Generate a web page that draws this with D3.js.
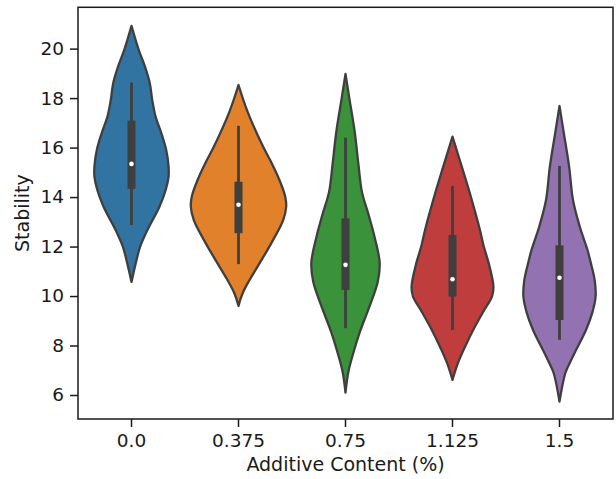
<!DOCTYPE html>
<html>
<head>
<meta charset="utf-8">
<script src="https://cdn.jsdelivr.net/npm/d3@7"></script>
<style>
  body { margin: 0; background: #fff; }
  text { font-family: "DejaVu Sans", sans-serif; fill: #1a1a1a; }
</style>
</head>
<body>
<svg id="chart" width="616" height="479"></svg>
<script>
// groups on the x axis
var categories = ["0.0", "0.375", "0.75", "1.125", "1.5"]
var colors = ["#3274a1", "#e1812c", "#3a923a", "#c03d3e", "#9372b2"]

// kde outline of each violin: stability values and relative density there
var kdeValues = [
    [20.92, 19.95, 19.27, 18.60, 17.93, 17.25, 16.58, 15.91, 15.23, 14.83, 14.29, 13.61, 12.67, 12.00, 11.34, 10.57],
    [18.53, 17.39, 16.04, 15.37, 14.69, 14.02, 13.61, 13.08, 12.27, 11.46, 10.65, 10.13, 9.60],
    [18.98, 17.99, 16.65, 15.30, 14.22, 13.28, 12.34, 11.34, 10.58, 9.64, 8.56, 7.75, 6.94, 6.10],
    [16.44, 15.37, 14.02, 12.67, 12.00, 11.34, 10.38, 9.98, 9.44, 8.63, 7.95, 7.28, 6.61],
    [17.68, 16.58, 15.23, 13.88, 12.81, 11.87, 11.34, 10.65, 9.98, 9.32, 8.63, 7.69, 7.28, 6.88, 5.73]
]
var kdeDensity = [
    [0, 0.15, 0.28, 0.38, 0.43, 0.50, 0.62, 0.72, 0.77, 0.77, 0.71, 0.58, 0.33, 0.18, 0.09, 0],
    [0, 0.20, 0.51, 0.69, 0.85, 0.97, 0.99, 0.93, 0.72, 0.48, 0.23, 0.09, 0],
    [0, 0.08, 0.19, 0.27, 0.34, 0.48, 0.61, 0.71, 0.67, 0.51, 0.30, 0.17, 0.06, 0],
    [0, 0.17, 0.38, 0.57, 0.65, 0.75, 0.85, 0.82, 0.66, 0.43, 0.26, 0.11, 0],
    [0, 0.09, 0.20, 0.28, 0.42, 0.58, 0.65, 0.73, 0.75, 0.68, 0.55, 0.31, 0.21, 0.12, 0]
]

// inner box stats
var whiskerLow = [12.87, 11.29, 8.70, 8.63, 8.23]
var q1 = [14.33, 12.54, 10.25, 9.98, 9.03]
var median = [15.34, 13.69, 11.26, 10.68, 10.74]
var q3 = [17.09, 14.62, 13.14, 12.47, 12.05]
var whiskerHigh = [18.63, 16.88, 16.40, 14.45, 15.26]

var yTicks = [6, 8, 10, 12, 14, 16, 18, 20]

var plotLeft = 78, plotRight = 613, plotTop = 7.3, plotBottom = 419
var edge = "#3f3f3f"

var svg = d3.select("#chart")

var x = d3.scaleBand()
    .domain(categories)
    .range([plotLeft, plotRight])

var y = d3.scaleLinear()
    .domain([5.03, 21.67])
    .range([plotBottom, plotTop])

var w = d3.scaleLinear()
    .domain([0, 1])
    .range([0, x.bandwidth() * 0.45])

var violins = svg.selectAll(".violin")
    .data(categories)
    .enter().append("g")
    .attr("class", "violin")

violins.append("path")
    .attr("d", function(c, i) {
        var cx = x(c) + x.bandwidth() / 2
        var pts = kdeValues[i].map(function(v, j) { return [v, kdeDensity[i][j]] })
        return d3.area()
            .curve(d3.curveCatmullRom)
            .y(function(d) { return y(d[0]) })
            .x0(function(d) { return cx - w(d[1]) })
            .x1(function(d) { return cx + w(d[1]) })(pts)
    })
    .style("fill", function(c, i) { return colors[i] })
    .style("stroke", edge)
    .style("stroke-width", 2.3)
    .style("stroke-linejoin", "round")

violins.append("line")
    .attr("x1", function(c) { return x(c) + x.bandwidth() / 2 })
    .attr("x2", function(c) { return x(c) + x.bandwidth() / 2 })
    .attr("y1", function(c, i) { return y(whiskerHigh[i]) })
    .attr("y2", function(c, i) { return y(whiskerLow[i]) })
    .style("stroke", edge)
    .style("stroke-width", 2.8)

violins.append("rect")
    .attr("x", function(c) { return x(c) + x.bandwidth() / 2 - 4 })
    .attr("width", 8)
    .attr("y", function(c, i) { return y(q3[i]) })
    .attr("height", function(c, i) { return y(q1[i]) - y(q3[i]) })
    .style("fill", edge)

violins.append("circle")
    .attr("cx", function(c) { return x(c) + x.bandwidth() / 2 })
    .attr("cy", function(c, i) { return y(median[i]) })
    .attr("r", 2.3)
    .style("fill", "white")

// axes
svg.append("g")
    .attr("transform", "translate(0," + plotBottom + ")")
    .call(d3.axisBottom(x).tickSize(8).tickSizeOuter(0).tickPadding(7))

svg.append("g")
    .attr("transform", "translate(" + plotLeft + ",0)")
    .call(d3.axisLeft(y).tickValues(yTicks).tickSize(8).tickSizeOuter(0).tickPadding(6))

svg.selectAll(".domain").remove()
svg.selectAll(".tick line").style("stroke", "#1a1a1a").style("stroke-width", 1.5)
svg.selectAll(".tick text").style("font-size", "18.5px").style("fill", "#1a1a1a")
    .attr("font-family", null)

svg.append("rect")
    .attr("x", plotLeft)
    .attr("y", plotTop)
    .attr("width", plotRight - plotLeft)
    .attr("height", plotBottom - plotTop)
    .style("fill", "none")
    .style("stroke", "#1a1a1a")
    .style("stroke-width", 1.5)

svg.append("text")
    .attr("x", (plotLeft + plotRight) / 2)
    .attr("y", 471)
    .attr("text-anchor", "middle")
    .style("font-size", "19px")
    .text("Additive Content (%)")

svg.append("text")
    .attr("transform", "translate(28.5," + (plotTop + plotBottom) / 2 + ") rotate(-90)")
    .attr("text-anchor", "middle")
    .style("font-size", "19px")
    .text("Stability")
</script>
</body>
</html>
